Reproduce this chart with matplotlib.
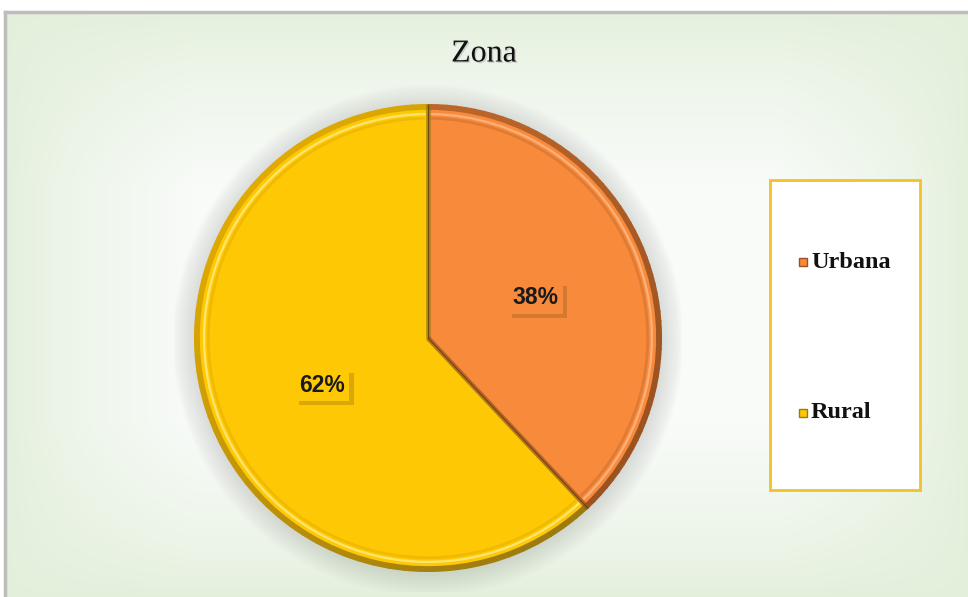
import numpy as np
import matplotlib.pyplot as plt
from matplotlib.patches import Wedge, Rectangle
import matplotlib.patheffects as pe
from matplotlib.colors import to_rgb

labels = ["Urbana", "Rural"]
values = [38, 62]
colors = ["#F88A3C", "#FFC805"]
rim_colors = ["#C46A2C", "#E0AA00"]
light_colors = ["#FBB07A", "#FFE56E"]
dark_colors = ["#9A5220", "#9C7A10"]

W, H = 968, 597
fig = plt.figure(figsize=(W / 100, H / 100), dpi=100)


def fx(px):
    return px / W


def fy(py):
    return 1 - py / H


# background: pale green frame fading to white in the middle
bg = fig.add_axes([fx(5), 0, 1 - fx(5), fy(12)])
bg.set_axis_off()
yy, xx = np.mgrid[0:1:300j, 0:1:500j]
dx = np.clip(np.minimum(xx, 1 - xx) / 0.2, 0, 1)
dy = np.clip(np.minimum(yy, 1 - yy) / 0.3, 0, 1)
t = (dx * dy) ** 0.7
edge = np.array([0.89, 0.94, 0.86])
mid = np.array([0.975, 0.985, 0.975])
img = edge[None, None, :] * (1 - t[..., None]) + mid[None, None, :] * t[..., None]
bg.imshow(img, extent=[0, 1, 0, 1], aspect="auto", origin="lower", interpolation="bilinear")
bg.set_xlim(0, 1)
bg.set_ylim(0, 1)
fig.add_artist(plt.Line2D([fx(5), 1], [fy(12), fy(12)], color="#BDBDBD", lw=2.5))
fig.add_artist(plt.Line2D([fx(5), fx(5)], [0, fy(12)], color="#BDBDBD", lw=2.5))

# pie
cx, cy, r = 428, 338, 234
ax = fig.add_axes([fx(cx - r - 20), fy(cy + r + 20), fx(2 * r + 40), (2 * r + 40) / H])
ax.set_xlim(-1 - 20 / r, 1 + 20 / r)
ax.set_ylim(-1 - 20 / r, 1 + 20 / r)
ax.set_axis_off()
ax.patch.set_visible(False)

# soft shadow behind the pie
for k in range(14):
    ax.add_patch(Wedge((0.0, -0.01), 1.0 + 0.007 * k, 0, 360,
                       facecolor="#8A8A8A", alpha=0.02, lw=0, zorder=0))

angles = np.cumsum([0] + values) / sum(values) * 360
for i, v in enumerate(values):
    t2 = 90 - angles[i]
    t1 = 90 - angles[i + 1]
    # rim shaded by angle: lit from the upper left, darker to the lower right
    steps = np.linspace(t1, t2, 60)
    for a0, a1 in zip(steps[:-1], steps[1:]):
        am = np.deg2rad((a0 + a1) / 2)
        s = (np.cos(am - np.deg2rad(135)) + 1) / 2
        c = np.array(to_rgb(dark_colors[i])) * (1 - s) + np.array(to_rgb(rim_colors[i])) * s
        ax.add_patch(Wedge((0, 0), 1.0, a0 - 0.2, a1 + 0.2, width=0.04,
                           facecolor=c, lw=0, zorder=1))
    ax.add_patch(Wedge((0, 0), 0.975, t1, t2, facecolor=colors[i], lw=0, zorder=2))
    ax.add_patch(Wedge((0, 0), 0.962, t1 + 0.6, t2 - 0.6, width=0.01,
                       facecolor=light_colors[i], lw=0, zorder=3))
    ax.add_patch(Wedge((0, 0), 0.945, t1 + 0.8, t2 - 0.8, width=0.012,
                       facecolor=rim_colors[i], alpha=0.45, lw=0, zorder=3))

# bevel shading along the slice boundaries
for i in range(len(values)):
    a = np.deg2rad(90 - angles[i])
    ax.plot([0, np.cos(a)], [0, np.sin(a)], color=dark_colors[i - 1], lw=3.5,
            alpha=0.7, solid_capstyle="butt", zorder=4)
    ax.plot([0, np.cos(a)], [0, np.sin(a)], color="#5A3A10", lw=0.8,
            alpha=0.8, solid_capstyle="butt", zorder=5)

# data labels
lab_pos = [(535, 298), (322, 385)]
for i, v in enumerate(values):
    px, py = lab_pos[i]
    x = (px - cx) / r
    y = -(py - cy) / r
    txt = ax.text(x, y, f"{v}%", ha="center", va="center", fontsize=16.5,
                  fontweight="bold", family="Liberation Sans", color="#1A1A1A", zorder=6,
                  bbox=dict(boxstyle="square,pad=0.2", facecolor=colors[i], edgecolor="none"))
    txt.get_bbox_patch().set_path_effects([
        pe.SimplePatchShadow(offset=(3, -3), shadow_rgbFace="#6A4A10", alpha=0.25),
        pe.Normal()])

# title
fig.text(fx(484), fy(54), "Zona", ha="center", va="center", fontsize=23,
         family="Liberation Serif", color="#111111",
         path_effects=[pe.withSimplePatchShadow(offset=(1, -1), alpha=0.15)])

# legend box
fig.add_artist(Rectangle((fx(770), fy(490)), fx(150), (490 - 180) / H, transform=fig.transFigure,
                         facecolor="white", edgecolor="#F2C12E", lw=2))
leg_y = [262, 413]
for i, lab in enumerate(labels):
    fig.add_artist(Rectangle((fx(799), fy(leg_y[i] + 4)), fx(8), 8 / H, transform=fig.transFigure,
                             facecolor=colors[i], edgecolor=dark_colors[i], lw=1))
    fig.text(fx(811), fy(leg_y[i]), lab, ha="left", va="center", fontsize=17.5,
             fontweight="bold", family="Liberation Serif", color="#111111")

fig.savefig("out.png", dpi=100)
